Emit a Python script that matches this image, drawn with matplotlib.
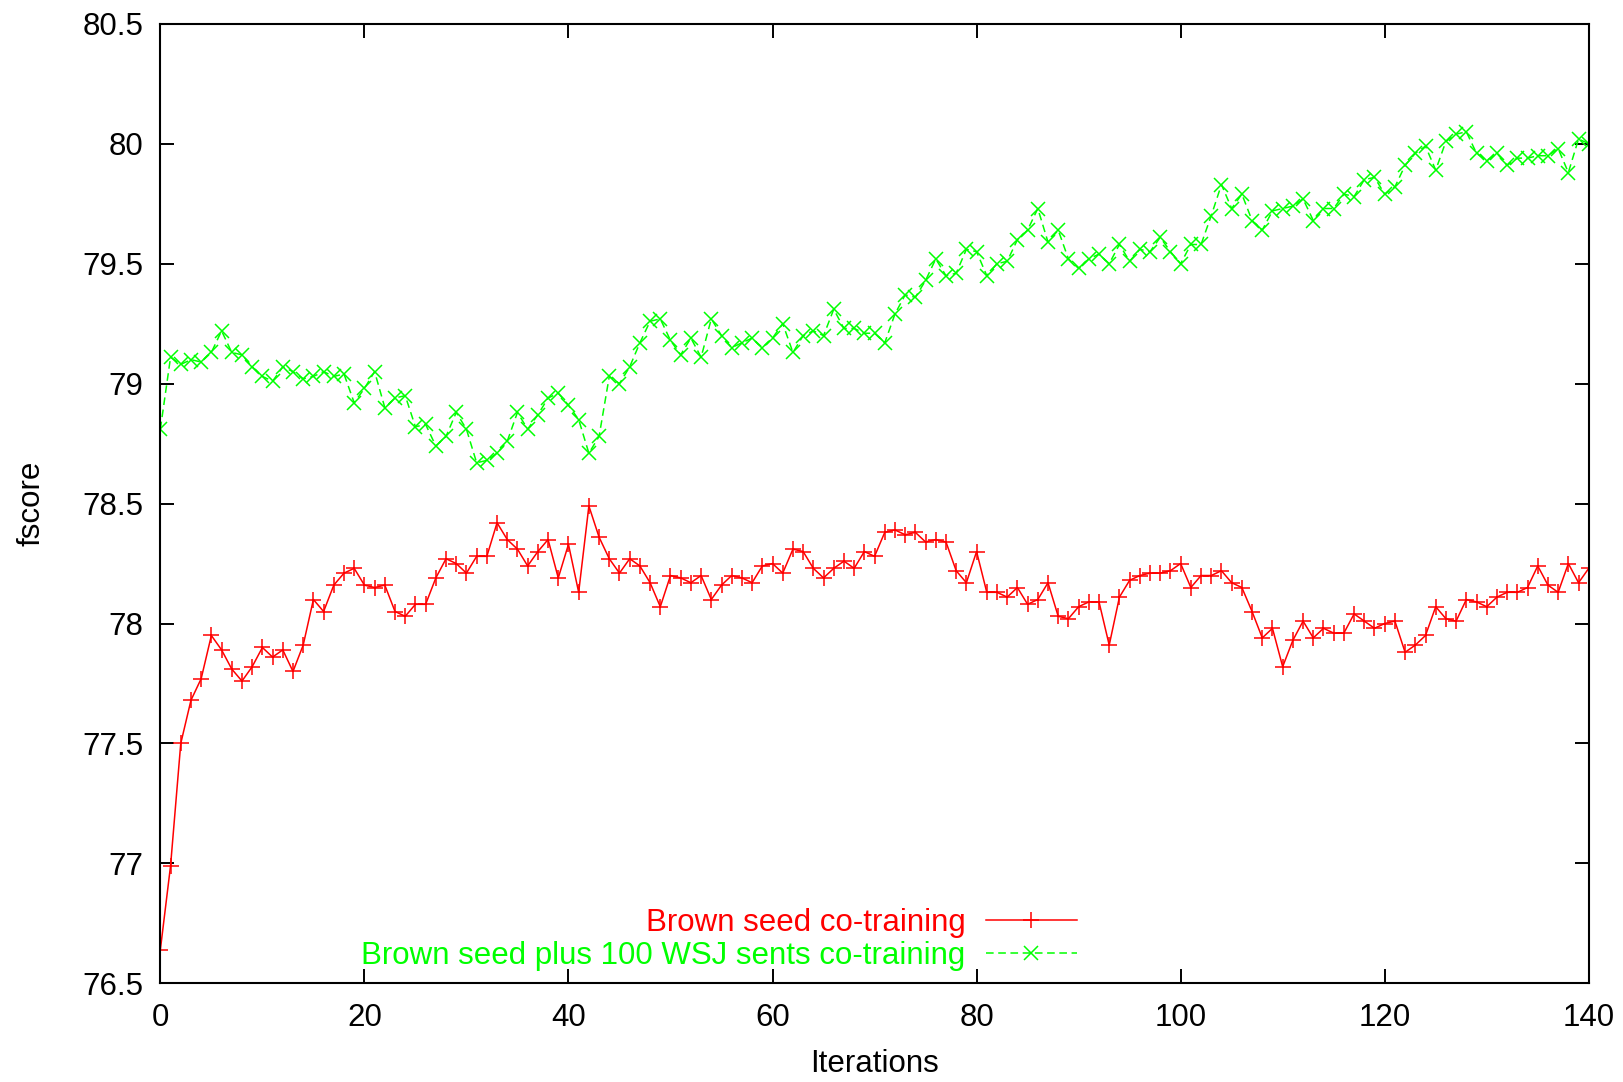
import numpy as np
import matplotlib
matplotlib.use("Agg")
import matplotlib.pyplot as plt
from matplotlib.ticker import FuncFormatter

plt.rcParams['font.family'] = ['Liberation Sans', 'DejaVu Sans']

# co-training runs, one fscore per iteration (0..140)
iterations = np.arange(0, 141)

brown_seed = [
    76.64, 76.99, 77.50, 77.68, 77.77, 77.95, 77.89, 77.81, 77.76, 77.82,
    77.90, 77.86, 77.89, 77.80, 77.91, 78.10, 78.05, 78.16, 78.21, 78.23,
    78.16, 78.15, 78.16, 78.05, 78.03, 78.08, 78.08, 78.19, 78.27, 78.25,
    78.21, 78.28, 78.28, 78.42, 78.35, 78.31, 78.24, 78.30, 78.35, 78.19,
    78.33, 78.13, 78.49, 78.36, 78.27, 78.21, 78.27, 78.24, 78.17, 78.07,
    78.20, 78.19, 78.17, 78.20, 78.10, 78.16, 78.20, 78.19, 78.17, 78.24,
    78.25, 78.21, 78.31, 78.30, 78.23, 78.19, 78.23, 78.26, 78.23, 78.30,
    78.28, 78.38, 78.39, 78.37, 78.38, 78.34, 78.35, 78.34, 78.22, 78.17,
    78.30, 78.13, 78.13, 78.11, 78.15, 78.08, 78.10, 78.17, 78.03, 78.02,
    78.07, 78.09, 78.09, 77.91, 78.11, 78.18, 78.20, 78.21, 78.21, 78.22,
    78.25, 78.15, 78.20, 78.20, 78.22, 78.17, 78.15, 78.05, 77.94, 77.98,
    77.82, 77.93, 78.01, 77.94, 77.98, 77.96, 77.96, 78.04, 78.01, 77.98,
    78.00, 78.01, 77.88, 77.91, 77.95, 78.07, 78.02, 78.01, 78.10, 78.09,
    78.07, 78.11, 78.13, 78.13, 78.15, 78.24, 78.16, 78.13, 78.25, 78.17,
    78.23,
]

brown_plus_wsj = [
    78.81, 79.11, 79.08, 79.10, 79.09, 79.13, 79.22, 79.13, 79.12, 79.07,
    79.03, 79.01, 79.07, 79.05, 79.02, 79.03, 79.05, 79.03, 79.04, 78.92,
    78.98, 79.05, 78.90, 78.94, 78.95, 78.82, 78.83, 78.74, 78.78, 78.88,
    78.81, 78.67, 78.68, 78.71, 78.76, 78.88, 78.81, 78.87, 78.94, 78.96,
    78.91, 78.85, 78.71, 78.78, 79.03, 79.00, 79.07, 79.17, 79.26, 79.27,
    79.18, 79.12, 79.19, 79.11, 79.27, 79.20, 79.15, 79.17, 79.19, 79.15,
    79.19, 79.25, 79.13, 79.20, 79.22, 79.20, 79.31, 79.23, 79.23, 79.21,
    79.21, 79.17, 79.29, 79.37, 79.36, 79.43, 79.52, 79.45, 79.46, 79.56,
    79.55, 79.45, 79.50, 79.51, 79.60, 79.64, 79.73, 79.59, 79.64, 79.52,
    79.48, 79.52, 79.54, 79.50, 79.58, 79.51, 79.56, 79.55, 79.61, 79.55,
    79.50, 79.58, 79.58, 79.70, 79.83, 79.73, 79.79, 79.68, 79.64, 79.72,
    79.73, 79.74, 79.77, 79.68, 79.73, 79.73, 79.79, 79.78, 79.85, 79.86,
    79.79, 79.82, 79.91, 79.96, 79.99, 79.89, 80.01, 80.04, 80.05, 79.96,
    79.93, 79.96, 79.91, 79.94, 79.94, 79.95, 79.95, 79.98, 79.88, 80.02,
    80.00,
]

x_ticks = [0, 20, 40, 60, 80, 100, 120, 140]
y_ticks = [76.5, 77, 77.5, 78, 78.5, 79, 79.5, 80, 80.5]

FS = 22.5

fig = plt.figure(figsize=(16.23, 10.82), dpi=100)
ax = fig.add_axes([0.0988, 0.0912, 0.8801, 0.8868])

ax.plot(iterations, brown_seed, color='#ff0000', lw=1.1, marker='+',
        markersize=11, markeredgewidth=1.1,
        label='Brown seed co-training')
ax.plot(iterations, brown_plus_wsj, color='#00ff00', lw=1.1, ls=(0, (5, 3)),
        marker='x', markersize=9.5, markeredgewidth=1.1,
        label='Brown seed plus 100 WSJ sents co-training')

ax.set_xlim(0, 140)
ax.set_ylim(76.5, 80.5)
ax.set_xticks(x_ticks)
ax.set_yticks(y_ticks)
ax.yaxis.set_major_formatter(FuncFormatter(lambda v, _: f"{v:g}"))

# gnuplot-like frame: inward ticks mirrored on all four sides
ax.tick_params(direction='in', length=10, width=1.4, top=True, right=True,
               labelsize=FS)
ax.tick_params(axis='x', pad=14)
ax.tick_params(axis='y', pad=12)
for s in ax.spines.values():
    s.set_linewidth(1.5)

ax.set_xlabel('Iterations', fontsize=FS, labelpad=12)
ax.set_ylabel('fscore', fontsize=FS, labelpad=26)

ax.legend(loc='lower right', bbox_to_anchor=(0.6414, 0.013),
          frameon=False, markerfirst=False, labelcolor='linecolor',
          fontsize=FS, handlelength=2.9, handletextpad=0.65,
          borderpad=0, borderaxespad=0, labelspacing=0.08)

fig.savefig('out.png', dpi=100)
